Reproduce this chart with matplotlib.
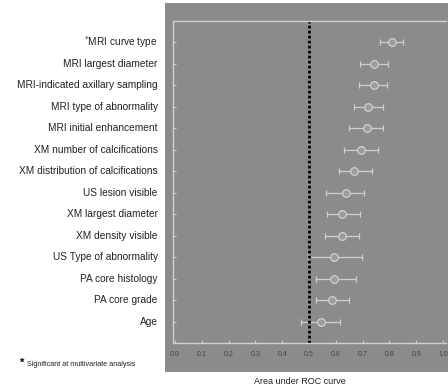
import matplotlib
matplotlib.use("Agg")
import matplotlib.pyplot as plt
import matplotlib.patches as ptch
import numpy as np

# data
labels = ['$^{*}$MRI curve type', 'MRI largest diameter', 'MRI-indicated axillary sampling',
          'MRI type of abnormality', 'MRI initial enhancement', 'XM number of calcifications',
          'XM distribution of calcifications', 'US lesion visible', 'XM largest diameter',
          'XM density visible', 'US Type of abnormality', 'PA core histology',
          'PA core grade', 'Age']
auc = [0.809, 0.743, 0.744, 0.721, 0.715, 0.693, 0.668, 0.637, 0.624, 0.624, 0.594, 0.594, 0.587, 0.544]
lo = [0.765, 0.690, 0.688, 0.669, 0.651, 0.632, 0.612, 0.562, 0.566, 0.560, 0.497, 0.525, 0.525, 0.470]
hi = [0.852, 0.796, 0.792, 0.777, 0.777, 0.756, 0.734, 0.706, 0.690, 0.687, 0.699, 0.674, 0.649, 0.616]
xticks = [0.0, 0.1, 0.2, 0.3, 0.4, 0.5, 0.6, 0.7, 0.8, 0.9, 1.0]

plt.rcParams['font.family'] = ['Liberation Sans', 'DejaVu Sans']
bg = '#8b8b8b'
light = '#d0d0d0'

fig = plt.figure(figsize=(4.48, 3.89), dpi=100)
# gray panel behind the plot
fig.patches.append(ptch.Rectangle((0.368, 0.044), 0.632, 0.948, transform=fig.transFigure,
                                  facecolor=bg, edgecolor='none', zorder=-10))
ax = fig.add_axes([0.386, 0.118, 0.61, 0.828])
ax.set_facecolor(bg)

y = np.arange(1, len(labels) + 1)
auc = np.array(auc); lo = np.array(lo); hi = np.array(hi)
ax.errorbar(auc, y, xerr=[auc - lo, hi - auc], fmt='o', color=light, ecolor=light,
            elinewidth=0.9, capsize=2, capthick=0.9, markersize=5.5,
            markerfacecolor='#9c9c9c', markeredgecolor=light, markeredgewidth=0.9)
ax.axvline(0.5, color='black', linestyle=(0, (1, 0.8)), linewidth=2.0)

ax.set_xlim(-0.008, 1.012)
ax.set_ylim(15, 0)
ax.set_yticks(y)
ax.set_yticklabels([])
for yi, lab in zip(y, labels):
    fig.text(0.352, ax.transData.transform((0, yi))[1] / fig.bbox.height, lab,
             ha='right', va='center', fontsize=7.3, color='#222222', transform=fig.transFigure)
ax.set_xticks(xticks)
ax.set_xticklabels(['%.1f' % t for t in xticks], fontsize=5, color='#444444')
ax.tick_params(axis='x', direction='in', length=2, color=light, pad=6)
ax.tick_params(axis='y', direction='in', length=2, color=light)
for s in ['top', 'left', 'bottom']:
    ax.spines[s].set_color(light)
    ax.spines[s].set_linewidth(1.0)
ax.spines['right'].set_visible(False)

fig.text(0.67, 0.02, 'Area under ROC curve', ha='center', va='center', fontsize=6.5, color='#222222')
fig.text(0.045, 0.067, '*', ha='left', va='center', fontsize=8, color='black', weight='bold')
fig.text(0.06, 0.062, 'Significant at multivariate analysis', ha='left', va='center',
         fontsize=5.2, color='#222222')

fig.savefig('out.png', dpi=100)
